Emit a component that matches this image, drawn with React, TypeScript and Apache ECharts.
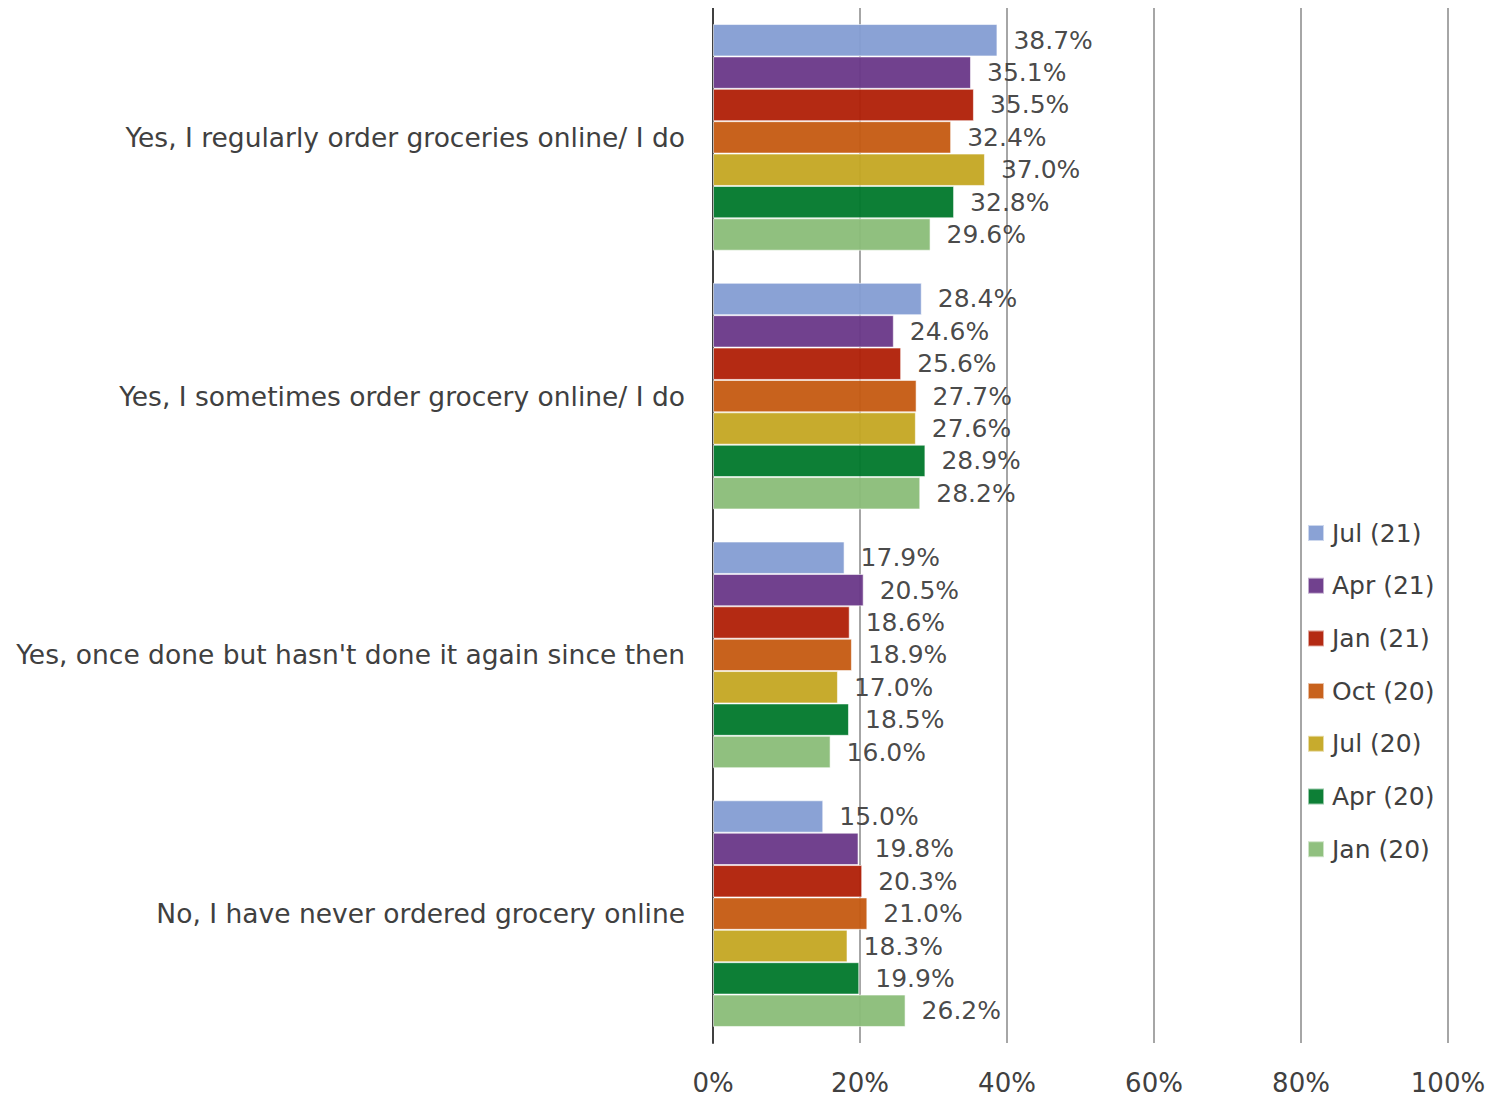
import React, { useEffect, useRef } from "react";
import * as echarts from "echarts";

const categories = [
  "Yes, I regularly order groceries online/ I do",
  "Yes, I sometimes order grocery online/ I do",
  "Yes, once done but hasn't done it again since then",
  "No, I have never ordered grocery online",
];

const seriesNames = ["Jul (21)", "Apr (21)", "Jan (21)", "Oct (20)", "Jul (20)", "Apr (20)", "Jan (20)"];
const seriesColors = ["#849DD3", "#693788", "#B01F06", "#C55A11", "#C4A622", "#00782B", "#8ABD78"];

const jul21 = [38.7, 28.4, 17.9, 15.0];
const apr21 = [35.1, 24.6, 20.5, 19.8];
const jan21 = [35.5, 25.6, 18.6, 20.3];
const oct20 = [32.4, 27.7, 18.9, 21.0];
const jul20 = [37.0, 27.6, 17.0, 18.3];
const apr20 = [32.8, 28.9, 18.5, 19.9];
const jan20 = [29.6, 28.2, 16.0, 26.2];

const seriesValues = [jul21, apr21, jan21, oct20, jul20, apr20, jan20];

const FONT = "'DejaVu Sans', 'Liberation Sans', Arial, sans-serif";
const TEXT = "#404040";

export default function App() {
  const ref = useRef<HTMLDivElement>(null);
  useEffect(() => {
    if (!ref.current) return;
    const chart = echarts.init(ref.current, undefined, { renderer: "svg" });
    chart.setOption({
      animation: false,
      backgroundColor: "#ffffff",
      textStyle: { fontFamily: FONT },
      grid: { left: 705, right: 58, top: 0, bottom: 56, containLabel: false, outerBoundsMode: "none" },
      legend: {
        orient: "vertical",
        left: 1294,
        top: 507,
        itemWidth: 16,
        itemHeight: 16,
        itemGap: 26.7,
        icon: "rect",
        data: seriesNames,
        textStyle: { fontSize: 25, color: TEXT, fontFamily: FONT, lineHeight: 26, padding: [0, 0, 0, 3] },
      },
      xAxis: {
        type: "value",
        min: 0,
        max: 100,
        interval: 20,
        axisLine: { show: false },
        axisTick: { show: false },
        axisLabel: {
          formatter: "{value}%",
          fontSize: 26,
          color: TEXT,
          fontFamily: FONT,
          margin: 27,
        },
        splitLine: { show: true, lineStyle: { color: "#A6A6A6", width: 2 } },
      },
      yAxis: {
        type: "category",
        inverse: true,
        data: categories,
        axisLine: { show: true, lineStyle: { color: "#404040", width: 2 } },
        axisTick: { show: false },
        axisLabel: { fontSize: 26.5, color: TEXT, fontFamily: FONT, margin: 28 },
      },
      series: seriesNames.map((name, i) => ({
        name,
        type: "bar",
        data: seriesValues[i],
        barGap: "0%",
        barCategoryGap: "12.4%",
        itemStyle: { color: seriesColors[i], opacity: 0.95, borderColor: "rgba(255,255,255,0.6)", borderWidth: 1 },
        label: {
          show: true,
          position: "right",
          distance: 16,
          formatter: (p: any) => p.value.toFixed(1) + "%",
          fontSize: 25,
          color: TEXT,
          fontFamily: FONT,
        },
      })),
    });
    return () => chart.dispose();
  }, []);
  return <div ref={ref} style={{ width: 1498, height: 1091 }} />;
}
